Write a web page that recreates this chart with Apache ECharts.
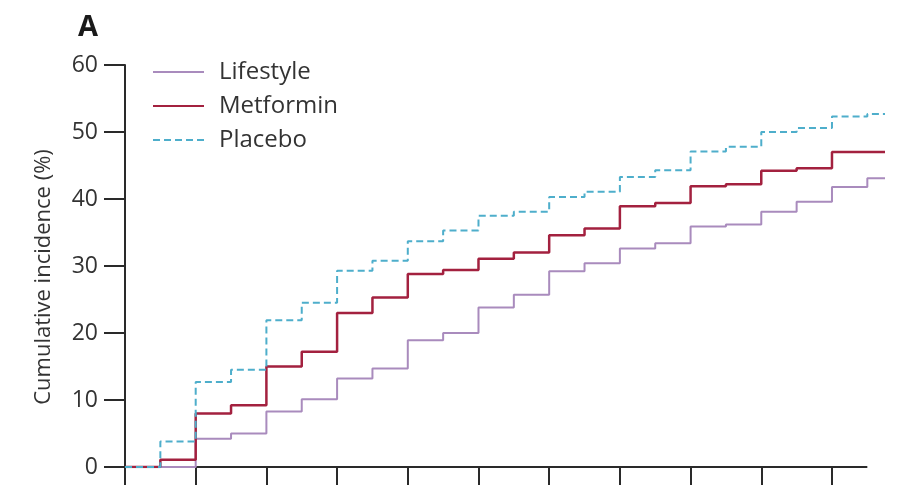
<!DOCTYPE html>
<html>
<head>
<meta charset="utf-8">
<script src="https://cdn.jsdelivr.net/npm/echarts@6/dist/echarts.min.js"></script>
<style>
html,body{margin:0;padding:0;background:#fff;}
#chart{width:912px;height:485px;}
</style>
</head>
<body>
<div id="chart"></div>
<script>
// Years of follow-up (visits every 6 months)
var years = [0, 0.5, 1, 1.5, 2, 2.5, 3, 3.5, 4, 4.5, 5, 5.5, 6, 6.5, 7, 7.5, 8, 8.5, 9, 9.5, 10, 10.5, 10.75];
var lifestyle = [0, 0, 4.2, 5.0, 8.3, 10.1, 13.2, 14.7, 18.9, 20.0, 23.8, 25.7, 29.2, 30.4, 32.6, 33.4, 35.9, 36.2, 38.1, 39.6, 41.8, 43.1, 43.1];
var metformin = [0, 1.1, 8.0, 9.2, 15.0, 17.2, 23.0, 25.3, 28.8, 29.4, 31.1, 32.0, 34.6, 35.6, 38.9, 39.4, 41.9, 42.2, 44.2, 44.6, 47.0, 47.0, 47.0];
var placebo = [0, 3.8, 12.7, 14.5, 21.9, 24.5, 29.3, 30.8, 33.7, 35.3, 37.5, 38.1, 40.3, 41.1, 43.3, 44.3, 47.1, 47.8, 50.0, 50.6, 52.3, 52.7, 52.7];
var seriesNames = ['Lifestyle', 'Metformin', 'Placebo'];
var xTicks = [0, 1, 2, 3, 4, 5, 6, 7, 8, 9, 10];
var xAxisEnd = 10.5;
var yTicks = [0, 10, 20, 30, 40, 50, 60];

function pairs(vals) {
  return years.map(function (t, i) { return [t, vals[i]]; });
}

var font = '"Open Sans", "Noto Sans", sans-serif';
var axisColor = '#2a2a2a';
var chart = echarts.init(document.getElementById('chart'), null, {renderer: 'canvas'});
chart.setOption({
  animation: false,
  backgroundColor: '#ffffff',
  title: {
    text: 'A', left: 73, top: 8,
    textStyle: {fontFamily: font, fontSize: 29, fontWeight: 'bold', color: '#1a1a1a'}
  },
  legend: {
    orient: 'vertical', left: 152, top: 58, padding: 0,
    itemWidth: 51, itemHeight: 14, itemGap: 6,
    itemStyle: {opacity: 0},
    data: seriesNames,
    textStyle: {fontFamily: font, fontSize: 24, lineHeight: 28, color: '#333', padding: [0, 0, 0, 10]}
  },
  grid: {left: 125, right: 27, top: 65, bottom: 18, containLabel: false},
  xAxis: {
    type: 'value', min: 0, max: years[years.length - 1],
    axisLine: {show: false},
    axisTick: {show: true, length: 22, customValues: xTicks, lineStyle: {color: axisColor, width: 2}},
    axisLabel: {show: false},
    splitLine: {show: false}
  },
  yAxis: {
    type: 'value', min: yTicks[0], max: yTicks[yTicks.length - 1], interval: 10,
    name: 'Cumulative incidence (%)', nameLocation: 'middle', nameGap: 70,
    nameTextStyle: {fontFamily: font, fontSize: 22, color: '#333', padding: [0, 22, 0, 0]},
    axisLine: {show: true, lineStyle: {color: axisColor, width: 2}},
    axisTick: {show: true, length: 21, lineStyle: {color: axisColor, width: 2}},
    axisLabel: {fontFamily: font, fontSize: 23, color: '#333', margin: 27},
    splitLine: {show: false}
  },
  series: [
    {name: 'Lifestyle', type: 'line', step: 'end', symbol: 'none', z: 3,
     data: pairs(lifestyle), itemStyle: {color: '#a98bbd'},
     lineStyle: {color: '#a98bbd', width: 2},
     markLine: {
       silent: true, symbol: 'none', label: {show: false}, z: 1,
       lineStyle: {color: axisColor, width: 2, type: 'solid'},
       data: [[{coord: [0, 0]}, {coord: [xAxisEnd, 0]}]]
     }},
    {name: 'Metformin', type: 'line', step: 'end', symbol: 'none', z: 4,
     data: pairs(metformin), itemStyle: {color: '#a3213f'},
     lineStyle: {color: '#a3213f', width: 2.5}},
    {name: 'Placebo', type: 'line', step: 'end', symbol: 'none', z: 5,
     data: pairs(placebo), itemStyle: {color: '#4eaecb'},
     lineStyle: {color: '#4eaecb', width: 2, type: [7, 4]}}
  ]
});
</script>
</body>
</html>
